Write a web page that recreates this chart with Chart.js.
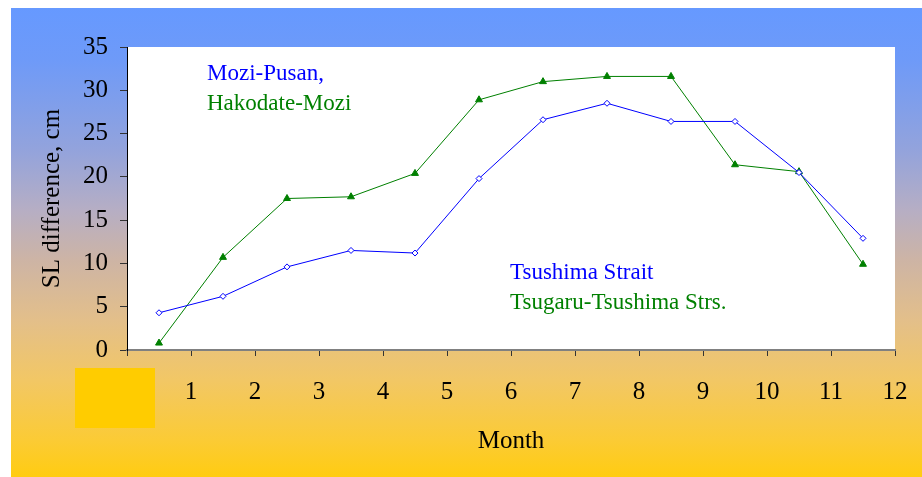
<!DOCTYPE html>
<html>
<head>
<meta charset="utf-8">
<script src="https://cdn.jsdelivr.net/npm/chart.js@4/dist/chart.umd.min.js"></script>
<style>
  html, body { margin: 0; padding: 0; background: #ffffff; }
  #wrap { position: relative; width: 922px; height: 477px; overflow: hidden; }
  #panel {
    position: absolute; left: 11px; top: 8px; width: 911px; height: 469px;
    background: linear-gradient(to bottom,
      #6699FF 0px, #6E9AF8 52px, #93A3DC 142px, #B6AEC4 202px,
      #CDB4A5 252px, #E3BF8A 312px, #F2C765 372px, #FBCB35 432px, #FFCC11 469px);
  }
  #chart { position: absolute; left: 0; top: 0; }
</style>
</head>
<body>
<div id="wrap">
  <div id="panel"></div>
  <canvas id="chart" width="922" height="477"></canvas>
</div>
<script>
// Monthly sea-level differences (cm), plotted at mid-month positions
const monthCenters = [0.5, 1.5, 2.5, 3.5, 4.5, 5.5, 6.5, 7.5, 8.5, 9.5, 10.5, 11.5];
const tsushimaStrait = [4.3, 6.2, 9.6, 11.5, 11.2, 19.8, 26.6, 28.5, 26.4, 26.4, 20.5, 12.9];
const tsugaruTsushima = [0.8, 10.7, 17.5, 17.7, 20.4, 28.9, 31.0, 31.6, 31.6, 21.4, 20.6, 9.9];
const monthTicks = ['', '1', '2', '3', '4', '5', '6', '7', '8', '9', '10', '11', '12'];
const yTitle = 'SL difference, cm';
const xTitle = 'Month';
const labelsBlue = ['Mozi-Pusan,', 'Tsushima Strait'];
const labelsGreen = ['Hakodate-Mozi', 'Tsugaru-Tsushima Strs.'];

const BLUE = '#0000FF';
const GREEN = '#008000';
const SERIF = '"Liberation Serif", "Times New Roman", serif';

const toPoints = (vals) => vals.map((v, i) => ({ x: monthCenters[i], y: v }));

// White plot area
const plotFill = {
  id: 'plotFill',
  beforeDraw(chart) {
    const { ctx, chartArea: a } = chart;
    ctx.save();
    ctx.fillStyle = '#ffffff';
    ctx.fillRect(a.left, a.top, a.right - a.left, a.bottom - a.top);
    ctx.restore();
  }
};

// Series name labels inside the plot and the gold swatch below the axis
const textLabels = {
  id: 'textLabels',
  afterDraw(chart) {
    const { ctx, chartArea: a } = chart;
    ctx.save();
    ctx.fillStyle = '#FFCC00';
    ctx.fillRect(a.left - 52, a.bottom + 18, 80, 60);
    ctx.font = '23px ' + SERIF;
    ctx.textBaseline = 'middle';
    ctx.textAlign = 'left';
    ctx.fillStyle = BLUE;
    ctx.fillText(labelsBlue[0], a.left + 80, a.top + 27);
    ctx.fillText(labelsBlue[1], a.left + 383, a.top + 226);
    ctx.fillStyle = GREEN;
    ctx.fillText(labelsGreen[0], a.left + 80, a.top + 57);
    ctx.fillText(labelsGreen[1], a.left + 383, a.top + 256);
    ctx.restore();
  }
};

new Chart(document.getElementById('chart'), {
  type: 'line',
  data: {
    datasets: [
      {
        label: 'Tsushima Strait',
        data: toPoints(tsushimaStrait),
        borderColor: BLUE,
        borderWidth: 1,
        pointStyle: 'rectRot',
        pointRadius: 3,
        pointBackgroundColor: '#ffffff',
        pointBorderColor: BLUE,
        pointBorderWidth: 1,
        tension: 0
      },
      {
        label: 'Tsugaru-Tsushima Strs.',
        data: toPoints(tsugaruTsushima),
        borderColor: GREEN,
        borderWidth: 1,
        pointStyle: 'triangle',
        pointRadius: 4,
        pointBackgroundColor: GREEN,
        pointBorderColor: GREEN,
        pointBorderWidth: 1,
        tension: 0
      }
    ]
  },
  options: {
    responsive: false,
    animation: false,
    events: [],
    layout: { padding: { top: 47, right: 27, left: 0, bottom: 0 } },
    plugins: { legend: { display: false }, tooltip: { enabled: false } },
    scales: {
      x: {
        type: 'linear',
        min: 0,
        max: 12,
        afterFit(scale) {
          scale.height = 127;
          scale.paddingLeft = 0;
          scale.paddingRight = 0;
        },
        ticks: {
          stepSize: 1,
          autoSkip: false,
          maxRotation: 0,
          padding: 21,
          color: '#000',
          font: { family: SERIF, size: 25 },
          callback: (v) => monthTicks[v] ?? ''
        },
        grid: { drawOnChartArea: false, drawTicks: true, tickLength: 6, color: '#333333' },
        border: { color: '#808080', width: 2 },
        title: {
          display: true,
          text: xTitle,
          color: '#000',
          font: { family: SERIF, size: 25 },
          padding: { top: 0, bottom: 21 }
        }
      },
      y: {
        min: 0,
        max: 35,
        afterFit(scale) { scale.width = 127; },
        ticks: {
          stepSize: 5,
          padding: 12,
          color: '#000',
          font: { family: SERIF, size: 25 }
        },
        grid: { drawOnChartArea: false, drawTicks: true, tickLength: 7, color: '#333333' },
        border: { color: '#000000', width: 1 },
        title: {
          display: true,
          text: yTitle,
          color: '#000',
          font: { family: SERIF, size: 25 },
          padding: { top: 37, bottom: 0 }
        }
      }
    }
  },
  plugins: [plotFill, textLabels]
});
</script>
</body>
</html>
